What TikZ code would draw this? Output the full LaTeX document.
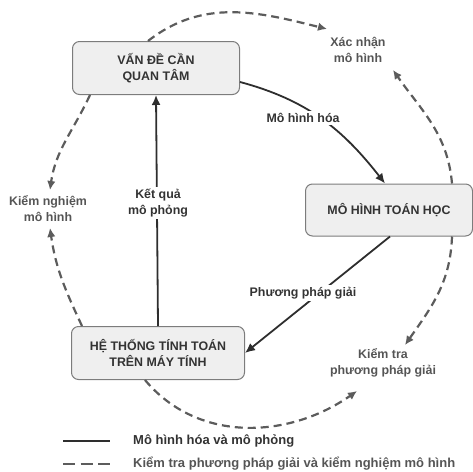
\documentclass[tikz,border=0pt]{standalone}
\usepackage{fontspec}
\setmainfont{Liberation Sans}
\usetikzlibrary{arrows.meta}
\definecolor{vienhop}{HTML}{7C7C7C}
\definecolor{nenhop}{HTML}{EFEFEF}
\definecolor{chudam}{HTML}{333333}
\definecolor{chuxam}{HTML}{555555}
\definecolor{netdam}{HTML}{2E2E2E}
\definecolor{netxam}{HTML}{5C5C5C}
\begin{document}
\begin{tikzpicture}[x=1pt,y=-1pt,
    font=\bfseries\fontsize{12.4}{16}\selectfont,
    hop/.style={draw=vienhop, fill=nenhop, rounded corners=7pt, line width=1pt,
        text=chudam, align=center, minimum height=53pt},
    nhan/.style={align=center, text=chudam, fill=white, inner sep=2pt},
    nhanxam/.style={align=center, text=chuxam, inner sep=2pt},
    muiten/.style={line width=1.8pt, draw=netdam, -{Latex[length=10pt,width=9pt]}},
    netdut/.style={line width=2.2pt, draw=netxam, dash pattern=on 8pt off 5pt,
        -{Latex[length=9pt,width=8.5pt]}}]
    \useasboundingbox (0,0) rectangle (473,471);
    % cac hop chinh
    \node[hop, minimum width=167pt] (vande) at (156,68) {VẤN ĐỀ CẦN\\QUAN TÂM};
    \node[hop, minimum width=167pt, minimum height=52pt] (mohinh) at (389,210) {MÔ HÌNH TOÁN HỌC};
    \node[hop, minimum width=173pt] (hethong) at (158,353) {HỆ THỐNG TÍNH TOÁN\\TRÊN MÁY TÍNH};
    % mui ten lien
    \draw[muiten] ([yshift=-14pt]vande.east) to[out=-15,in=128] ([xshift=-4pt]mohinh.north);
    \node[nhan] (lbmohinhhoa) at (303,118) {Mô hình hóa};
    \draw[muiten] ([xshift=1pt]mohinh.south) -- (hethong.east);
    \node[nhan] (lbphuongphap) at (303,293) {Phương pháp giải};
    \draw[muiten] (hethong.north) -- (vande.south);
    \node[nhan] (lbketqua) at (158,203) {Kết quả\\mô phỏng};
    % nhan cua net dut
    \node[nhanxam] (xacnhan) at (358,50) {Xác nhận\\mô hình};
    \node[nhanxam] (kiemnghiem) at (48,209) {Kiểm nghiệm\\mô hình};
    \node[nhanxam] (kiemtra) at (383,363) {Kiểm tra\\phương pháp giải};
    \coordinate (dinhxn1) at (327,29);
    \coordinate (dinhxn2) at (393,70);
    \coordinate (dinhkn1) at (50,190);
    \coordinate (dinhkn2) at (50,228);
    \coordinate (dinhkt1) at (405,345);
    \coordinate (dinhkt2) at (357,391);
    % mui ten net dut
    \draw[netdut] ([xshift=-8pt]vande.north) to[out=38,in=166] (dinhxn1);
    \draw[netdut] ([xshift=63pt]mohinh.north) to[out=95,in=-55] (dinhxn2);
    \draw[netdut] ([xshift=-66pt]vande.south) to[out=-115,in=82] (dinhkn1);
    \draw[netdut] ([xshift=-76pt]hethong.north) to[out=115,in=-82] (dinhkn2);
    \draw[netdut] ([xshift=63pt]mohinh.south) to[out=-92,in=55] (dinhkt1);
    \draw[netdut] ([xshift=-13pt]hethong.south) to[out=-50,in=-145] (dinhkt2);
    % chu thich
    \coordinate (lienA) at (63,441);
    \coordinate (lienB) at (110,441);
    \coordinate (dutA) at (63,464);
    \coordinate (dutB) at (110,464);
    \draw[line width=1.8pt, netdam] (lienA) -- (lienB);
    \draw[line width=2.2pt, netxam, dash pattern=on 12pt off 5.5pt] (dutA) -- (dutB);
    \node[anchor=west, text=chudam, inner sep=0pt, font=\bfseries\fontsize{13}{16}\selectfont] (ctlien) at (133,441) {Mô hình hóa và mô phỏng};
    \node[anchor=west, text=chuxam, inner sep=0pt, font=\bfseries\fontsize{13}{16}\selectfont] (ctdut) at (133,464) {Kiểm tra phương pháp giải và kiểm nghiệm mô hình};
\end{tikzpicture}
\end{document}
